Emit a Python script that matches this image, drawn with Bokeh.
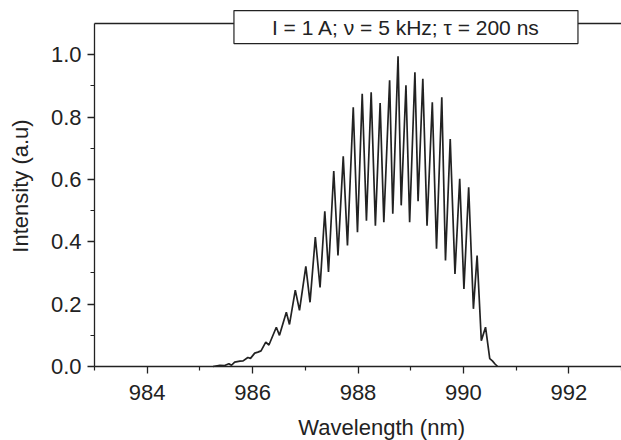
from bokeh.plotting import figure
from bokeh.models import FixedTicker, Label, Range1d, PrintfTickFormatter, LinearAxis
from bokeh.embed import file_html
from bokeh.resources import INLINE

# Spectrum (peaks and troughs of the fringes)
wavelength_nm = [
    985.25, 985.38, 985.47, 985.55, 985.60, 985.66, 985.76, 985.82, 985.91, 985.96,
    986.04, 986.10, 986.16, 986.25, 986.31, 986.45, 986.51, 986.64, 986.70, 986.81,
    986.89, 987.01, 987.09, 987.19, 987.28, 987.37, 987.44, 987.54, 987.62, 987.72,
    987.80, 987.91, 987.99, 988.08, 988.16, 988.25, 988.33, 988.42, 988.49, 988.60,
    988.66, 988.76, 988.82, 988.91, 988.98, 989.08, 989.14, 989.23, 989.31, 989.41,
    989.49, 989.59, 989.66, 989.75, 989.84, 989.93, 990.01, 990.10, 990.19, 990.26,
    990.34, 990.42, 990.50, 990.55, 990.60, 990.65,
]
intensity_au = [
    0.000, 0.004, 0.003, 0.009, 0.004, 0.014, 0.017, 0.018, 0.029, 0.026,
    0.043, 0.046, 0.050, 0.078, 0.069, 0.126, 0.100, 0.174, 0.135, 0.245,
    0.180, 0.321, 0.206, 0.415, 0.254, 0.498, 0.303, 0.627, 0.356, 0.674,
    0.388, 0.832, 0.431, 0.875, 0.468, 0.880, 0.452, 0.845, 0.463, 0.918,
    0.490, 0.995, 0.517, 0.902, 0.463, 0.944, 0.530, 0.923, 0.452, 0.848,
    0.378, 0.864, 0.340, 0.730, 0.297, 0.602, 0.249, 0.575, 0.185, 0.356,
    0.083, 0.126, 0.025, 0.018, 0.008, 0.000,
]

x_ticks = [984, 986, 988, 990, 992]
x_minor_ticks = [983, 985, 987, 989, 991, 993]
y_ticks = [0.0, 0.2, 0.4, 0.6, 0.8, 1.0]
y_minor_ticks = [0.1, 0.3, 0.5, 0.7, 0.9]
x_bounds = (983, 993)
y_bounds = (0.0, 1.1)
x_label = "Wavelength (nm)"
y_label = "Intensity (a.u)"
legend_text = "I = 1 A; \u03bd = 5 kHz; \u03c4 = 200 ns"

FONT = "Liberation Sans"
INK = "#222222"

# whole canvas is the frame; axes sit at fixed data locations
PX_PER_NM = 52.7
PX_PER_UNIT = 311.7
x_start = x_bounds[0] - 94 / PX_PER_NM
y_start = -74 / PX_PER_UNIT
y_end = 366 / PX_PER_UNIT

p = figure(
    width=621, height=440,
    output_backend="svg", toolbar_location=None,
    x_range=Range1d(x_start, x_bounds[1]), y_range=Range1d(y_start, y_end),
    x_axis_location=None, y_axis_location=None,
    min_border=0, min_border_left=0, min_border_right=0,
    min_border_top=0, min_border_bottom=0,
)
p.background_fill_color = "white"
p.border_fill_color = "white"
p.outline_line_color = None
p.xgrid.visible = False
p.ygrid.visible = False

p.line(wavelength_nm, intensity_au, line_color=INK, line_width=1.7)


def style(ax):
    ax.axis_line_color = INK
    ax.axis_line_width = 1.3
    ax.major_tick_line_color = INK
    ax.minor_tick_line_color = INK
    ax.major_tick_line_width = 1.3
    ax.minor_tick_line_width = 1.2
    ax.major_tick_in = 0
    ax.major_tick_out = 7
    ax.minor_tick_in = 0
    ax.minor_tick_out = 4
    ax.major_label_text_font = FONT
    ax.major_label_text_font_size = "22px"
    ax.major_label_text_color = INK


xaxis = LinearAxis(
    fixed_location=0.0, bounds=x_bounds,
    ticker=FixedTicker(ticks=x_ticks, minor_ticks=x_minor_ticks),
    formatter=PrintfTickFormatter(format="%d"),
)
style(xaxis)
xaxis.major_label_standoff = 11
p.add_layout(xaxis, "below")

yaxis = LinearAxis(
    fixed_location=x_bounds[0], bounds=y_bounds,
    ticker=FixedTicker(ticks=y_ticks, minor_ticks=y_minor_ticks),
    formatter=PrintfTickFormatter(format="%.1f"),
)
style(yaxis)
yaxis.major_label_standoff = 6
p.add_layout(yaxis, "left")

# top frame line
top = LinearAxis(
    fixed_location=y_bounds[1], bounds=x_bounds,
    ticker=FixedTicker(ticks=[]),
    axis_line_color=INK, axis_line_width=1.3,
    major_tick_line_color=None, minor_tick_line_color=None,
    major_label_text_color=None,
)
p.add_layout(top, "above")

p.add_layout(Label(
    x=988.45, y=-0.157, text=x_label, text_align="center", text_baseline="top",
    text_font=FONT, text_font_size="22px", text_color=INK,
))

p.add_layout(Label(
    x=x_bounds[0] - 74 / PX_PER_NM, y=0.579, text=y_label, angle=90, angle_units="deg",
    text_align="center", text_baseline="middle",
    text_font=FONT, text_font_size="22px", text_color=INK,
))

p.add_layout(Label(
    x=988.91, y=1.089, text=legend_text, text_align="center", text_baseline="middle",
    text_font=FONT, text_font_size="21px", text_color=INK,
    background_fill_color="white", border_line_color=INK, border_line_width=1.2,
    padding=(38, 5),
))

open("out.html", "w").write(file_html(p, INLINE))
